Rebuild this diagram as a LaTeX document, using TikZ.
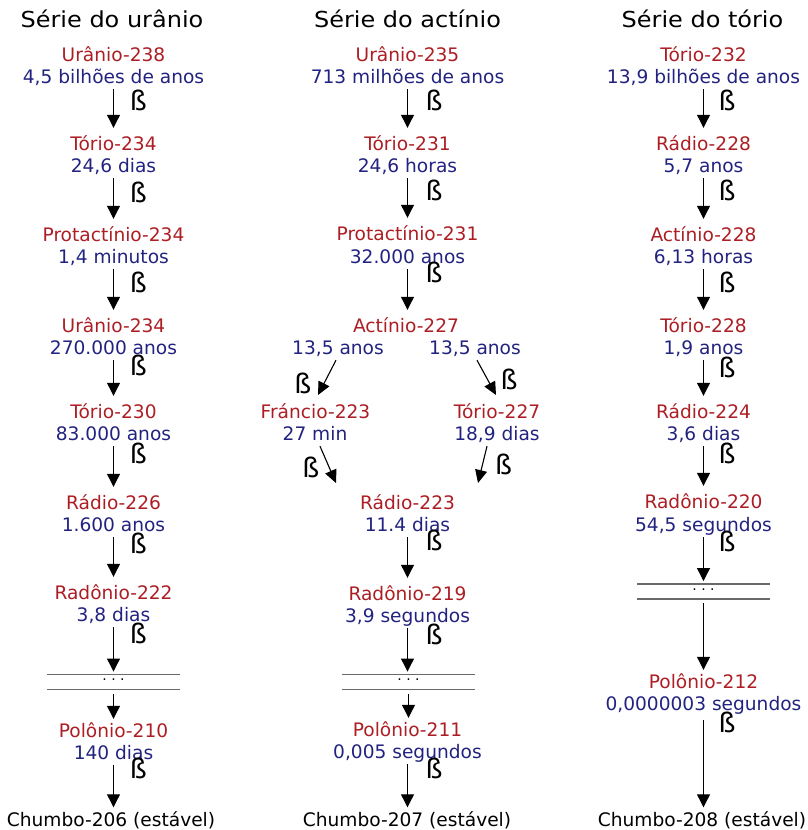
\documentclass[tikz,border=0pt]{standalone}
\usepackage{fontspec}
\setmainfont{DejaVu Sans}
\usetikzlibrary{arrows.meta}
\definecolor{isored}{RGB}{172,30,36}
\definecolor{isoblue}{RGB}{34,34,128}
\definecolor{sepgray}{RGB}{105,105,105}
\newcommand\bodyfnt{\fontsize{18.6}{22}\selectfont}
\newcommand\titlefnt{\fontsize{22}{26}\selectfont}
\newcommand\betafnt{\fontsize{27}{30}\selectfont}
\newcommand\dotfnt{\fontsize{14}{16}\selectfont}
\newcommand\ttltext[1]{\scalebox{1.09}[1]{#1}}
\begin{document}
\begin{tikzpicture}[x=1pt,y=-1pt,
  ttl/.style={anchor=base, font=\titlefnt, inner sep=0},
  txt/.style={anchor=base, font=\bodyfnt, inner sep=0, text height=13pt, text depth=6pt},
  nuc/.style={txt, text=isored},
  hl/.style={txt, text=isoblue},
  stab/.style={txt, text=black},
  bet/.style={font=\betafnt, inner sep=0},
  decay/.style={draw, line width=1.1pt, -{Triangle[width=13pt,length=13pt]}, shorten >=9pt},
  diag/.style={draw, line width=1.1pt, -{Triangle[width=12pt,length=13pt]}},
  dotbox/.style={minimum width=133pt, minimum height=14.5pt, inner sep=0, font=\dotfnt},
  sepline/.style={draw=sepgray, line width=1.4pt}
]
\useasboundingbox (0,0) rectangle (807,830);

% ---------------- titles
\node[ttl] (t1) at (112,27) {\ttltext{Série do urânio}};
\node[ttl] (t2) at (407.5,27) {\ttltext{Série do actínio}};
\node[ttl] (t3) at (702.5,27) {\ttltext{Série do tório}};

% ---------------- uranium series
\node[nuc] (L1) at (113.5,61) {Urânio-238};
\node[hl]  (L1b) at (113.5,83) {4,5 bilhões de anos};
\node[nuc] (L2) at (113.5,150) {Tório-234};
\node[hl]  (L2b) at (113.5,172) {24,6 dias};
\node[nuc] (L3) at (113.5,241) {Protactínio-234};
\node[hl]  (L3b) at (113.5,263) {1,4 minutos};
\node[nuc] (L4) at (113.5,332) {Urânio-234};
\node[hl]  (L4b) at (113.5,354) {270.000 anos};
\node[nuc] (L5) at (113.5,418) {Tório-230};
\node[hl]  (L5b) at (113.5,440) {83.000 anos};
\node[nuc] (L6) at (113.5,509) {Rádio-226};
\node[hl]  (L6b) at (113.5,531) {1.600 anos};
\node[nuc] (L7) at (113.5,599) {Radônio-222};
\node[hl]  (L7b) at (113.5,621) {3,8 dias};
\node[dotbox] (Ld) at (113.5,682) {· · ·};
\node[nuc] (L8) at (113.5,737) {Polônio-210};
\node[hl]  (L8b) at (113.5,759) {140 dias};
\node[stab] (L9) at (111,826) {Chumbo-206 (estável)};

\draw[sepline] (Ld.north west) -- (Ld.north east) (Ld.south west) -- (Ld.south east);

\draw[decay] (L1b.south) -- (L1b.south |- L2.north);
\draw[decay] (L2b.south) -- (L2b.south |- L3.north);
\draw[decay] (L3b.south) -- (L3b.south |- L4.north);
\draw[decay] (L4b.south) -- (L4b.south |- L5.north);
\draw[decay] (L5b.south) -- (L5b.south |- L6.north);
\draw[decay] (L6b.south) -- (L6b.south |- L7.north);
\draw[decay, shorten >=3pt] (L7b.south) -- (L7b.south |- Ld.north);
\draw[decay, shorten <=4.5pt, shorten >=5pt] (Ld.south) -- (Ld.south |- L8.north);
\draw[decay, shorten >=5.5pt] (L8b.south) -- (L8b.south |- L9.north);

\node[bet] (Lb1) at (138.5,100) {ß};
\node[bet] (Lb2) at (138.5,192) {ß};
\node[bet] (Lb3) at (138.5,282) {ß};
\node[bet] (Lb4) at (138.5,365) {ß};
\node[bet] (Lb5) at (138.5,453) {ß};
\node[bet] (Lb6) at (138.5,543) {ß};
\node[bet] (Lb7) at (138.5,633) {ß};
\node[bet] (Lb8) at (138.5,768) {ß};

% ---------------- actinium series
\node[nuc] (M1) at (407.5,61) {Urânio-235};
\node[hl]  (M1b) at (407.5,83) {713 milhões de anos};
\node[nuc] (M2) at (407.5,150) {Tório-231};
\node[hl]  (M2b) at (407.5,172) {24,6 horas};
\node[nuc] (M3) at (407.5,240) {Protactínio-231};
\node[hl]  (M3b) at (407.5,263) {32.000 anos};
\node[nuc] (M4) at (406,332) {Actínio-227};
\node[hl]  (M4l) at (338,354) {13,5 anos};
\node[hl]  (M4r) at (475,354) {13,5 anos};
\node[nuc] (Fr) at (315.5,418) {Fráncio-223};
\node[hl]  (Frb) at (315,440) {27 min};
\node[nuc] (Th) at (497,418) {Tório-227};
\node[hl]  (Thb) at (497,440) {18,9 dias};
\node[nuc] (M5) at (407.5,509) {Rádio-223};
\node[hl]  (M5b) at (407.5,531) {11.4 dias};
\node[nuc] (M6) at (407.5,600) {Radônio-219};
\node[hl]  (M6b) at (407.5,622) {3,9 segundos};
\node[dotbox] (Md) at (408.5,682) {· · ·};
\node[nuc] (M7) at (407.5,736) {Polônio-211};
\node[hl]  (M7b) at (407.5,758) {0,005 segundos};
\node[stab] (M8) at (407,826) {Chumbo-207 (estável)};

\draw[sepline] (Md.north west) -- (Md.north east) (Md.south west) -- (Md.south east);

\coordinate (ul) at (318,395);
\coordinate (ur) at (496,395);
\coordinate (ll) at (336,483);
\coordinate (lr) at (478,483);

\draw[decay] (M1b.south) -- (M1b.south |- M2.north);
\draw[decay] (M2b.south) -- (M2b.south |- M3.north);
\draw[decay] (M3b.south) -- (M3b.south |- M4.north);
\draw[diag] ([xshift=-2pt]M4l.south) -- (ul);
\draw[diag] ([xshift=2pt]M4r.south) -- (ur);
\draw[diag] ([xshift=5pt]Frb.south) -- (ll);
\draw[diag] ([xshift=-10pt]Thb.south) -- (lr);
\draw[decay] (M5b.south) -- (M5b.south |- M6.north);
\draw[decay, shorten >=3pt] (M6b.south) -- (M6b.south |- Md.north);
\draw[decay, shorten <=4.5pt, shorten >=5pt] (Md.south) -- (Md.south |- M7.north);
\draw[decay, shorten >=5.5pt] (M7b.south) -- (M7b.south |- M8.north);

\node[bet] (Mb1) at (434,100) {ß};
\node[bet] (Mb2) at (434,190) {ß};
\node[bet] (Mb3) at (434,272) {ß};
\node[bet] (Mbl) at (303,383) {ß};
\node[bet] (Mbr) at (509,379) {ß};
\node[bet] (Mbll) at (311,467) {ß};
\node[bet] (Mblr) at (503.5,464) {ß};
\node[bet] (Mb5) at (434,540) {ß};
\node[bet] (Mb6) at (434,634) {ß};
\node[bet] (Mb7) at (434,768) {ß};

% ---------------- thorium series
\node[nuc] (R1) at (703.5,61) {Tório-232};
\node[hl]  (R1b) at (703.5,83) {13,9 bilhões de anos};
\node[nuc] (R2) at (703.5,150) {Rádio-228};
\node[hl]  (R2b) at (703.5,172) {5,7 anos};
\node[nuc] (R3) at (703.5,241) {Actínio-228};
\node[hl]  (R3b) at (703.5,263) {6,13 horas};
\node[nuc] (R4) at (703.5,332) {Tório-228};
\node[hl]  (R4b) at (703.5,354) {1,9 anos};
\node[nuc] (R5) at (703.5,418) {Rádio-224};
\node[hl]  (R5b) at (703.5,440) {3,6 dias};
\node[nuc] (R6) at (703.5,508) {Radônio-220};
\node[hl]  (R6b) at (703.5,531) {54,5 segundos};
\node[dotbox] (Rd) at (703.5,591.5) {· · ·};
\node[nuc] (R7) at (703.5,688) {Polônio-212};
\node[hl]  (R7b) at (703.5,710) {0,0000003 segundos};
\node[stab] (R8) at (702,826) {Chumbo-208 (estável)};

\draw[sepline] (Rd.north west) -- (Rd.north east) (Rd.south west) -- (Rd.south east);

\draw[decay] (R1b.south) -- (R1b.south |- R2.north);
\draw[decay] (R2b.south) -- (R2b.south |- R3.north);
\draw[decay] (R3b.south) -- (R3b.south |- R4.north);
\draw[decay] (R4b.south) -- (R4b.south |- R5.north);
\draw[decay] (R5b.south) -- (R5b.south |- R6.north);
\draw[decay, shorten >=3pt] (R6b.south) -- (R6b.south |- Rd.north);
\draw[decay, shorten <=4pt, shorten >=5pt] (Rd.south) -- (Rd.south |- R7.north);
\draw[decay, shorten <=4pt, shorten >=5.5pt] (R7b.south) -- (R7b.south |- R8.north);

\node[bet] (Rb1) at (727,100) {ß};
\node[bet] (Rb2) at (727,190) {ß};
\node[bet] (Rb3) at (727,282) {ß};
\node[bet] (Rb4) at (727,367) {ß};
\node[bet] (Rb5) at (727,453) {ß};
\node[bet] (Rb6) at (727,541) {ß};
\node[bet] (Rb7) at (727,722) {ß};
\end{tikzpicture}
\end{document}
